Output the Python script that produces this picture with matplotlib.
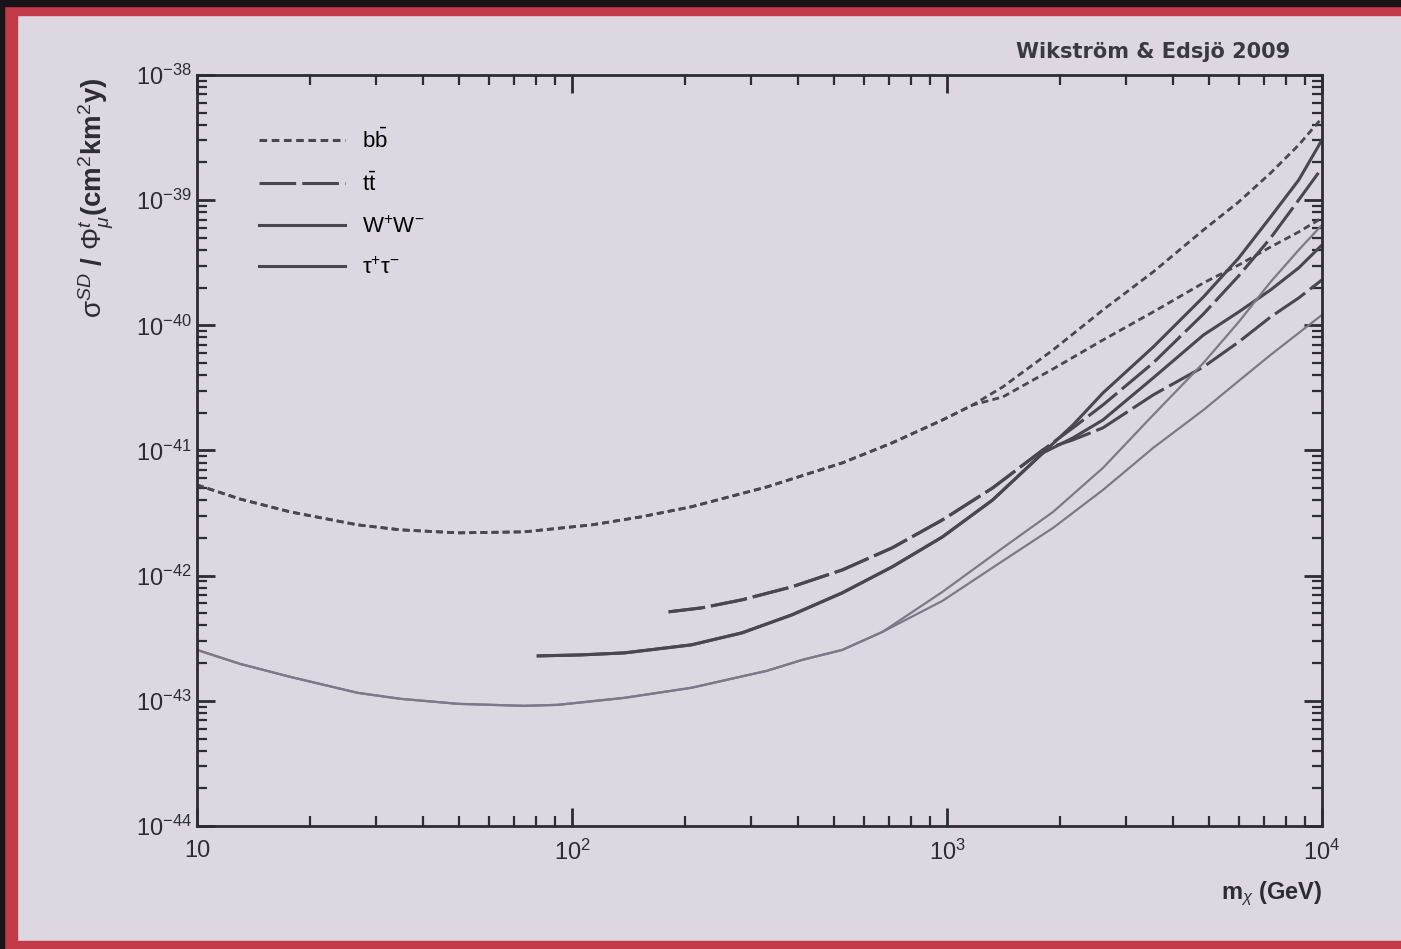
import matplotlib
matplotlib.use("Agg")
import numpy as np
import matplotlib.pyplot as plt
from matplotlib.patches import Rectangle

plt.rcParams['font.family'] = ['Liberation Sans', 'DejaVu Sans']
plt.rcParams['mathtext.fontset'] = 'custom'
plt.rcParams['mathtext.rm'] = 'Liberation Sans'
plt.rcParams['mathtext.it'] = 'Liberation Sans:italic'
plt.rcParams['mathtext.bf'] = 'Liberation Sans:bold'

# Neutralino masses (GeV) and log10 of the limit (cm^2 km^2 y).
# Every channel has two curves which share the low-mass part.
m_bb_low = [10, 13.0, 17.7, 26.8, 34.9, 49.7, 74.5, 113, 153, 208, 331, 526, 714, 973, 1172]
bb_low = [-41.275, -41.387, -41.490, -41.594, -41.634, -41.658, -41.650, -41.594, -41.530,
          -41.450, -41.291, -41.099, -40.939, -40.756, -40.636]
m_bb_high = [1409, 1919, 2606, 3548, 4831, 5998, 7295, 8670, 10000]
bb_1 = [-40.492, -40.196, -39.877, -39.573, -39.238, -39.014, -38.783, -38.559, -38.343]
bb_2 = [-40.572, -40.348, -40.117, -39.893, -39.661, -39.518, -39.374, -39.254, -39.142]

m_tt_low = [181, 222, 284, 386, 526, 714, 973, 1324, 1803]
tt_low = [-42.289, -42.257, -42.193, -42.089, -41.954, -41.778, -41.554, -41.299, -40.995]
m_tt_high = [2168, 2606, 3548, 4831, 5998, 7295, 8670, 10000]
tt_1 = [-40.819, -40.636, -40.300, -39.909, -39.605, -39.302, -38.998, -38.743]
tt_2 = [-40.915, -40.819, -40.556, -40.332, -40.133, -39.933, -39.781, -39.637]

m_ww_low = [81.3, 106, 138, 208, 284, 386, 526, 714, 973, 1324, 1803]
ww_low = [-42.641, -42.633, -42.617, -42.553, -42.457, -42.313, -42.137, -41.930, -41.690,
          -41.395, -41.019]
m_ww_high = [2168, 2606, 3548, 4831, 5998, 7295, 8670, 10000]
ww_1 = [-40.796, -40.540, -40.173, -39.773, -39.462, -39.134, -38.839, -38.519]
ww_2 = [-40.899, -40.756, -40.420, -40.077, -39.893, -39.717, -39.541, -39.358]

m_tau_low = [10, 13.0, 17.7, 26.8, 34.9, 49.7, 74.5, 91.8, 138, 208, 331, 411, 526, 673]
tau_low = [-42.593, -42.704, -42.808, -42.936, -42.984, -43.024, -43.040, -43.032, -42.976,
           -42.896, -42.760, -42.673, -42.593, -42.449]
m_tau_high = [973, 1409, 1919, 2606, 3548, 4831, 5998, 7295, 8670, 10000]
tau_1 = [-42.129, -41.778, -41.490, -41.139, -40.716, -40.300, -39.973, -39.653, -39.398, -39.198]
tau_2 = [-42.201, -41.882, -41.618, -41.315, -40.979, -40.676, -40.444, -40.236, -40.061, -39.917]

labels = [r'b$\mathrm{\bar{b}}$', r't$\mathrm{\bar{t}}$', r'W$^{+}$W$^{-}$',
          r'$\mathrm{\tau}^{+}\mathrm{\tau}^{-}$']
x_ticks = [10, 100, 1000, 10000]
x_labels = ['10', r'$10^{2}$', r'$10^{3}$', r'$10^{4}$']
y_ticks = [1e-44, 1e-43, 1e-42, 1e-41, 1e-40, 1e-39, 1e-38]
y_labels = [r'$10^{-44}$', r'$10^{-43}$', r'$10^{-42}$', r'$10^{-41}$',
            r'$10^{-40}$', r'$10^{-39}$', r'$10^{-38}$']

bg = '#dcd7e0'
dark = '#4a4752'
light = '#7d7987'
ink = '#2e2c33'


def branch(m_low, s_low, m_high, s_high):
    # join the shared part with one of the high-mass branches
    m = list(m_low) + list(m_high)
    s = np.power(10.0, list(s_low) + list(s_high))
    return m, s


fig = plt.figure(figsize=(14.01, 9.49), dpi=100, facecolor=bg)
ax = fig.add_axes([0.1406, 0.1296, 0.8030, 0.7914], facecolor=bg)

dot = (0, (2.5, 1.5))
longdash = (0, (12, 2))
styles = [
    (m_bb_low, bb_low, m_bb_high, [bb_1, bb_2], dict(color=dark, lw=2, linestyle=dot)),
    (m_tt_low, tt_low, m_tt_high, [tt_1, tt_2], dict(color=dark, lw=2.2, linestyle=longdash)),
    (m_ww_low, ww_low, m_ww_high, [ww_1, ww_2], dict(color=dark, lw=2.2)),
    (m_tau_low, tau_low, m_tau_high, [tau_1, tau_2], dict(color=light, lw=1.6)),
]
for lab, (ml, sl, mh, highs, kw) in zip(labels, styles):
    for i, sh in enumerate(highs):
        m, s = branch(ml, sl, mh, sh)
        ax.plot(m, s, label=lab if i == 0 else None, **kw)

ax.set_xscale('log')
ax.set_yscale('log')
ax.set_xlim(10, 10000)
ax.set_ylim(1e-44, 1e-38)
ax.set_xticks(x_ticks)
ax.set_xticklabels(x_labels)
ax.set_yticks(y_ticks)
ax.set_yticklabels(y_labels)

ax.tick_params(which='both', direction='in', top=True, right=True, colors=ink, labelsize=17)
ax.tick_params(which='major', length=13, width=2)
ax.tick_params(which='minor', length=7, width=1.6)
ax.tick_params(axis='x', pad=10)
for s in ax.spines.values():
    s.set_linewidth(2)
    s.set_color(ink)

leg = ax.legend(loc='upper left', bbox_to_anchor=(0.037, 0.955), frameon=False,
                fontsize=16, handlelength=3.9, labelspacing=0.9, handletextpad=0.75)
for h in leg.get_lines():
    h.set_color(dark)
    h.set_linewidth(2.2)

fig.text(0.069, 0.792, r'$\mathrm{\sigma}^{SD}$ / $\mathrm{\Phi}^{t}_{\mu}$(cm$^{2}$km$^{2}$y)',
         rotation=90, ha='center', va='center', fontsize=20, fontweight='bold', color=ink)
fig.text(0.9436, 0.058, r'm$_{\chi}$ (GeV)', ha='right', va='center', fontsize=17,
         fontweight='bold', color=ink)
fig.text(0.921, 0.945, 'Wikström & Edsjö 2009', ha='right', va='center', fontsize=15,
         fontweight='bold', color='#3a3840', family='DejaVu Sans')

# red frame of the photographed slide (no frame on the right side)
red = '#c23a48'
fig.patches.append(Rectangle((0.0, 0.0), 0.012, 1.0, transform=fig.transFigure, color=red))
fig.patches.append(Rectangle((0.0, 0.984), 1.0, 0.016, transform=fig.transFigure, color=red))
fig.patches.append(Rectangle((0.0, 0.0), 1.0, 0.008, transform=fig.transFigure, color=red))
fig.patches.append(Rectangle((0.0, 0.994), 1.0, 0.006, transform=fig.transFigure, color='#1a1418'))
fig.patches.append(Rectangle((0.0, 0.0), 0.003, 1.0, transform=fig.transFigure, color='#1a1418'))

fig.savefig('out.png', dpi=100, facecolor=bg)
